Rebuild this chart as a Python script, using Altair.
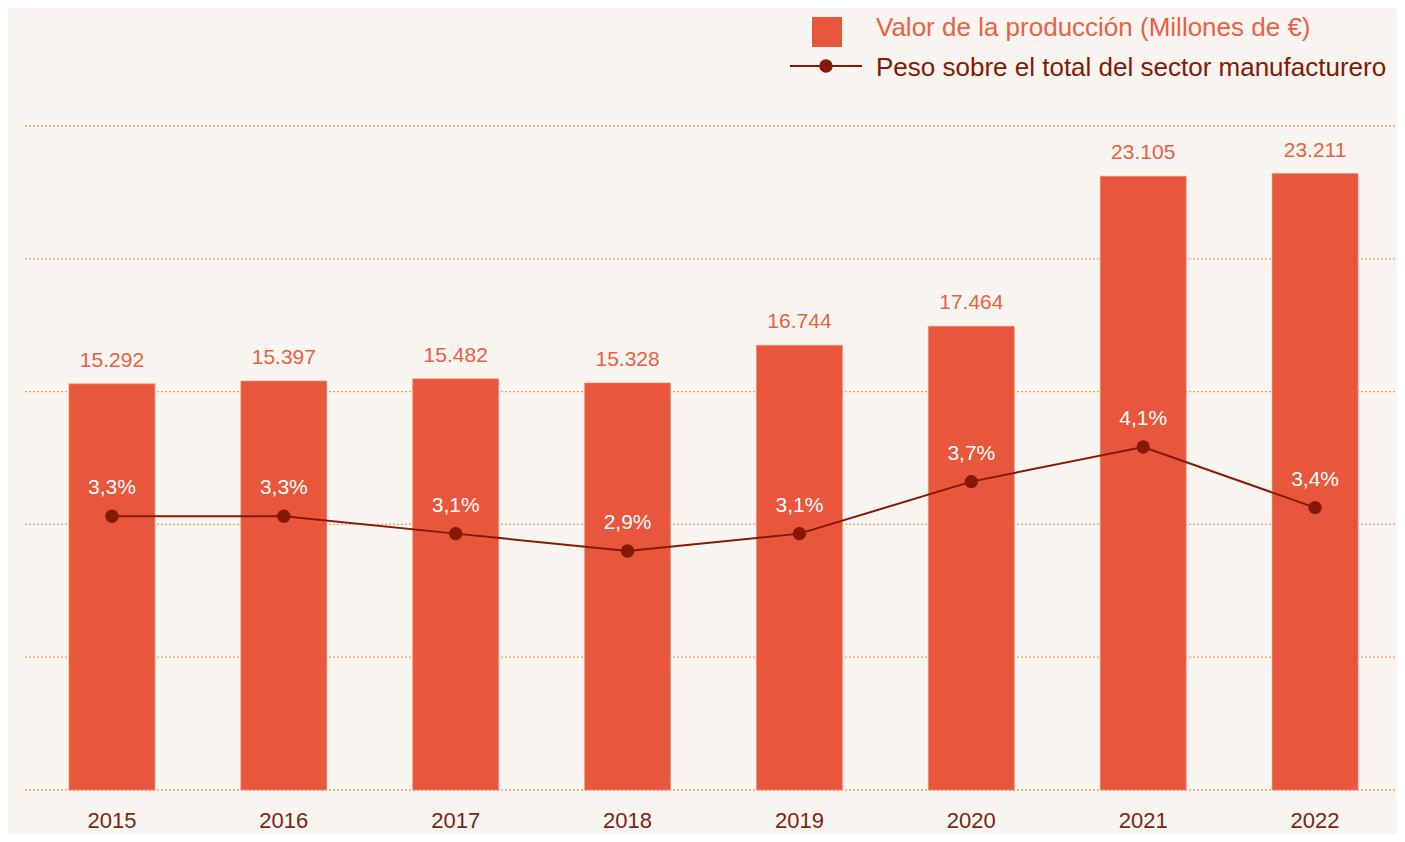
import altair as alt
import pandas as pd

years = ["2015", "2016", "2017", "2018", "2019", "2020", "2021", "2022"]
valor = [15292, 15397, 15482, 15328, 16744, 17464, 23105, 23211]
valor_labels = ["15.292", "15.397", "15.482", "15.328", "16.744", "17.464", "23.105", "23.211"]
peso = [3.3, 3.3, 3.1, 2.9, 3.1, 3.7, 4.1, 3.4]
peso_labels = ["3,3%", "3,3%", "3,1%", "2,9%", "3,1%", "3,7%", "4,1%", "3,4%"]
grid_values = [0, 5000, 10000, 15000, 20000, 25000]

BG = "#f8f5f0"
BAR = "#e8573c"
BAR_TXT = "#ea5f45"
LINE = "#861806"
AXIS_TXT = "#7d2413"
GRID = "#f59a68"
FONT = "Liberation Sans"

df = pd.DataFrame({"year": years, "valor": valor, "vlab": valor_labels,
                   "peso": peso, "plab": peso_labels})
gdf = pd.DataFrame({"g": grid_values})

W, H = 1371, 664

xscale = alt.Scale(paddingInner=0.5, paddingOuter=0.25, range=[0, 1375])
xenc = alt.X("year:N", sort=years, scale=xscale,
             axis=alt.Axis(title=None, domain=False, ticks=False, labelAngle=0,
                           labelFont=FONT, labelFontSize=22, labelColor=AXIS_TXT,
                           labelPadding=20))
yscale = alt.Scale(domain=[0, 25000])
pscale = alt.Scale(domain=[0.142, 7.803])

grid = alt.Chart(gdf).mark_rule(color=GRID, strokeDash=[2, 2], strokeWidth=1.3).encode(
    y=alt.Y("g:Q", scale=yscale, axis=None),
    x=alt.value(-1), x2=alt.value(W + 8))

base = alt.Chart(df)
bars = base.mark_bar(color=BAR, stroke="#ee8a74", strokeWidth=0.6).encode(
    x=xenc, y=alt.Y("valor:Q", scale=yscale, axis=None))
bar_text = base.mark_text(font=FONT, fontSize=21, color=BAR_TXT, baseline="middle", dy=-23).encode(
    x=alt.X("year:N", sort=years), y=alt.Y("valor:Q", scale=yscale, axis=None), text="vlab:N")

line = base.mark_line(color=LINE, strokeWidth=2).encode(
    x=alt.X("year:N", sort=years), y=alt.Y("peso:Q", scale=pscale, axis=None))
pts = base.mark_point(filled=True, color=LINE, size=180, opacity=1).encode(
    x=alt.X("year:N", sort=years), y=alt.Y("peso:Q", scale=pscale, axis=None))
pct_text = base.mark_text(font=FONT, fontSize=21, color="white", baseline="middle", dy=-28).encode(
    x=alt.X("year:N", sort=years), y=alt.Y("peso:Q", scale=pscale, axis=None), text="plab:N")

# manual legend
leg_df = pd.DataFrame({"a": [1]})
leg_sq = alt.Chart(leg_df).mark_square(color=BAR, size=900, opacity=1).encode(
    x=alt.value(801), y=alt.value(-94))
leg_t1 = alt.Chart(leg_df).mark_text(font=FONT, fontSize=26, color=BAR_TXT, align="left",
                                      baseline="middle", text="Valor de la producción (Millones de €)").encode(
    x=alt.value(850), y=alt.value(-98))
leg_line = alt.Chart(leg_df).mark_rule(color=LINE, strokeWidth=2).encode(
    x=alt.value(764), x2=alt.value(836), y=alt.value(-60))
leg_pt = alt.Chart(leg_df).mark_circle(color=LINE, size=180, opacity=1).encode(
    x=alt.value(800), y=alt.value(-60))
leg_t2 = alt.Chart(leg_df).mark_text(font=FONT, fontSize=26, color=LINE, align="left",
                                      baseline="middle", text="Peso sobre el total del sector manufacturero").encode(
    x=alt.value(850), y=alt.value(-58))

bar_layer = alt.layer(grid, bars, bar_text)
line_layer = alt.layer(line, pts, pct_text)

chart = alt.layer(bar_layer, line_layer, leg_sq, leg_t1, leg_line, leg_pt, leg_t2).resolve_scale(
    y="independent"
).properties(
    width=W, height=H,
    background=BG,
    padding={"left": 18, "top": 118, "right": 0, "bottom": 44},
    autosize=alt.AutoSizeParams(type="none"),
).configure_view(stroke=None)

chart.save("out.html", embed_options={"renderer": "svg", "actions": False})
